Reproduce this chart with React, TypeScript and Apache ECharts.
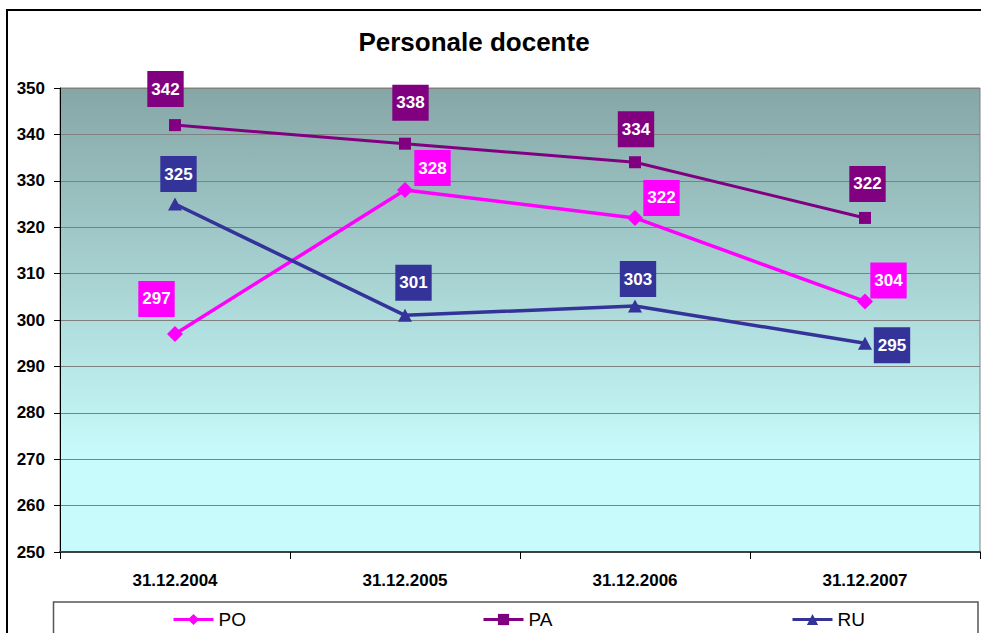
import React, { useEffect, useRef } from "react";
import * as echarts from "echarts";

const categories = ["31.12.2004", "31.12.2005", "31.12.2006", "31.12.2007"];
const seriesNames = ["PO", "PA", "RU"];
const poValues = [297, 328, 322, 304];
const paValues = [342, 338, 334, 322];
const ruValues = [325, 301, 303, 295];
const yMin = 250;
const yMax = 350;
const yStep = 10;

// label styling offsets (relative to the marker)
const poLabelOffsets = [[-18.5, -35], [27.5, -22], [26.5, -20], [23.5, -21]];
const paLabelOffsets = [[-9.5, -36], [5.5, -41], [1, -33], [2.5, -34]];
const ruLabelOffsets = [[3.5, -30], [8.5, -32.5], [3, -27], [27, 2]];

const FONT = "'Liberation Sans', Arial, sans-serif";

function makeData(values: number[], offsets: number[][]) {
  return values.map((v, i) => ({ value: v, label: { offset: offsets[i] } }));
}

function makeSeries(
  name: string,
  values: number[],
  offsets: number[][],
  color: string,
  symbol: string,
  size: number | number[],
  width: number
) {
  return {
    name,
    type: "line",
    data: makeData(values, offsets),
    symbol,
    symbolSize: size,
    lineStyle: { color, width },
    itemStyle: { color },
    label: {
      show: true,
      position: "inside",
      color: "#ffffff",
      fontFamily: FONT,
      fontWeight: "bold",
      fontSize: 17,
      lineHeight: 18,
      backgroundColor: color,
      padding: [9, 4, 9, 4],
    },
  };
}

export default function App() {
  const ref = useRef<HTMLDivElement>(null);
  useEffect(() => {
    document.body.style.margin = "0";
    document.body.style.overflow = "hidden";
    const chart = echarts.init(ref.current!, undefined, { renderer: "svg" });
    const legendBase = {
      orient: "horizontal",
      top: 610,
      padding: 0,
      itemWidth: 40,
      itemHeight: 14,
      itemGap: 4,
      lineStyle: { width: 3 },
      textStyle: { fontFamily: FONT, fontSize: 19, color: "#000" },
    };
    chart.setOption({
      animation: false,
      backgroundColor: "#ffffff",
      grid: {
        left: 60,
        top: 88,
        right: 1,
        bottom: 81,
        show: true,
        borderColor: "#808080",
        borderWidth: 1,
        backgroundColor: new echarts.graphic.LinearGradient(0, 0, 0, 1, [
          { offset: 0, color: "#86a6a6" },
          { offset: 0.8, color: "#c8fcfc" },
          { offset: 1, color: "#c8fcfc" },
        ]),
      },
      graphic: [
        {
          type: "rect",
          z: -10,
          shape: { x: 7, y: 10, width: 1200, height: 1000 },
          style: { fill: "none", stroke: "#000", lineWidth: 2 },
        },
        {
          type: "rect",
          z: -5,
          shape: { x: 53.5, y: 602, width: 924.5, height: 80 },
          style: { fill: "#fff", stroke: "#555", lineWidth: 1.5 },
        },
        {
          type: "text",
          x: 474,
          y: 42,
          style: {
            text: "Personale docente",
            fontFamily: FONT,
            fontWeight: "bold",
            fontSize: 26,
            fill: "#000",
            textAlign: "center",
            textVerticalAlign: "middle",
          },
        },
      ],
      legend: [
        { ...legendBase, left: 172, data: ["PO"] },
        { ...legendBase, left: 482, data: ["PA"] },
        { ...legendBase, left: 791, data: ["RU"] },
      ],
      xAxis: {
        type: "category",
        data: categories,
        boundaryGap: true,
        axisLine: { lineStyle: { color: "#404040", width: 2 } },
        axisTick: { show: true, length: 7, lineStyle: { color: "#000" } },
        axisLabel: {
          margin: 20,
          fontFamily: FONT,
          fontWeight: "bold",
          fontSize: 17,
          color: "#000",
        },
        splitLine: { show: false },
      },
      yAxis: {
        type: "value",
        min: yMin,
        max: yMax,
        interval: yStep,
        axisLine: { show: true, lineStyle: { color: "#000", width: 1 } },
        axisTick: { show: true, length: 6, lineStyle: { color: "#000" } },
        axisLabel: {
          margin: 15,
          fontFamily: FONT,
          fontWeight: "bold",
          fontSize: 17,
          color: "#000",
        },
        splitLine: { show: true, lineStyle: { color: "#808080", width: 1 } },
      },
      series: [
        makeSeries(seriesNames[0], poValues, poLabelOffsets, "#ff00ff", "diamond", 16, 3.5),
        makeSeries(seriesNames[1], paValues, paLabelOffsets, "#800080", "rect", 12, 3),
        makeSeries(seriesNames[2], ruValues, ruLabelOffsets, "#333399", "triangle", [14, 13], 3.5),
      ],
    });
    return () => chart.dispose();
  }, []);
  return <div ref={ref} style={{ width: 981, height: 633 }} />;
}
